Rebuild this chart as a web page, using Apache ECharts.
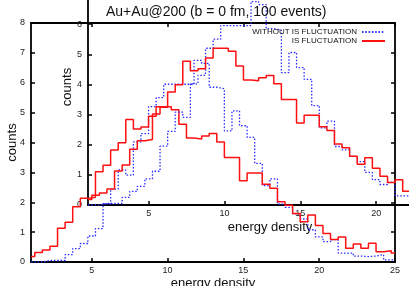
<!DOCTYPE html>
<html><head><meta charset="utf-8">
<script src="https://cdn.jsdelivr.net/npm/echarts@6/dist/echarts.min.js"></script>
<style>html,body{margin:0;padding:0;background:#fff}#c{width:409px;height:286px}</style>
</head><body><div id="c"></div>
<script>
const titleText = 'Au+Au@200 (b = 0 fm, 100 events)';
const nameWithout = 'WITHOUT IS FLUCTUATION';
const nameWith = 'IS FLUCTUATION';
const xName = 'energy density';
const yName = 'counts';
// left edges of histogram bins (energy density)
const binStart = [1, 1.25, 1.75, 2.25, 2.75, 3.25, 3.75, 4.25, 4.75, 5.25, 5.75, 6.25, 6.75, 7.25, 7.75, 8.25, 8.75, 9.25, 9.75, 10.25, 10.75, 11.25, 11.75, 12.25, 12.75, 13.25, 13.75, 14.25, 14.75, 15.25, 15.75, 16.25, 16.75, 17.25, 17.75, 18.25, 18.75, 19.25, 19.75, 20.25, 20.75, 21.25, 21.75, 22.25, 22.75, 23.25, 23.75, 24.25, 24.75];
const binEnd = 25;
const withFluct = [0.18, 0.32, 0.40, 0.53, 1.13, 1.33, 1.85, 2.13, 2.17, 3.02, 3.24, 3.75, 3.99, 4.77, 4.45, 4.52, 4.88, 5.20, 5.20, 5.10, 4.61, 4.15, 4.12, 4.22, 4.30, 4.02, 3.50, 3.50, 2.72, 2.98, 2.98, 2.60, 2.47, 2.02, 1.90, 1.62, 1.35, 1.57, 1.22, 0.95, 0.75, 0.84, 0.46, 0.60, 0.46, 0.63, 0.34, 0.38, 0.30];
const withoutFluct = [0, 0, 0.05, 0.05, 0.05, 0.25, 0.45, 0.62, 0.87, 1.12, 1.95, 2.44, 3.08, 2.91, 4.02, 4.30, 5.20, 5.50, 5.95, 5.95, 5.95, 5.95, 6.75, 6.65, 5.85, 5.80, 4.39, 5.06, 4.56, 4.17, 3.30, 2.56, 2.78, 1.94, 1.83, 1.61, 1.44, 1.08, 0.84, 0.68, 0.75, 0.30, 0.30, 0.20, 0.18, 0.20, 0.25, 0.07, 0.07];
const xTicks = [5, 10, 15, 20, 25];

function steps(vals) {
  const d = binStart.map((x, i) => [x, vals[i]]);
  d.push([binEnd, vals[vals.length - 1]]);
  return d;
}
const FONT = 'Liberation Sans';
const axisLineStyle = { color: '#000', width: 1.8 };
const tickStyle = { color: '#000', width: 1.5 };

function xAxisDef(grid, pos, labels, name, nameGap) {
  return {
    type: 'value', gridIndex: grid, position: pos, min: 1, max: 25,
    splitLine: { show: false },
    axisLine: { show: true, onZero: false, lineStyle: axisLineStyle },
    axisTick: { show: true, inside: true, length: 4, customValues: xTicks, lineStyle: tickStyle },
    axisLabel: { show: labels, customValues: xTicks, fontSize: 9, margin: 4, color: '#222', fontFamily: FONT },
    name: name, nameLocation: 'middle', nameGap: nameGap, nameMoveOverlap: false,
    nameTextStyle: { fontSize: 13, color: '#111', fontFamily: FONT }
  };
}
function yAxisDef(grid, pos, max, labels, name, nameGap, pad) {
  return {
    type: 'value', gridIndex: grid, position: pos, min: 0, max: max, interval: 1,
    splitLine: { show: false },
    axisLine: { show: true, onZero: false, lineStyle: axisLineStyle },
    axisTick: { show: true, inside: true, length: 4, lineStyle: tickStyle },
    axisLabel: { show: labels, fontSize: 9, margin: 6, color: '#222', fontFamily: FONT },
    name: name, nameLocation: 'middle', nameGap: nameGap, nameRotate: 90, nameMoveOverlap: false,
    nameTextStyle: { fontSize: 13, color: '#111', fontFamily: FONT, padding: pad }
  };
}
function line(name, vals, xi, yi) {
  const isRed = name === nameWith;
  return {
    name: name, type: 'line', step: 'end', xAxisIndex: xi, yAxisIndex: yi,
    data: steps(vals), symbol: 'none', animation: false,
    lineStyle: isRed ? { color: '#ff1010', width: 1.5 } : { color: '#2a2aff', width: 1.3, type: [1.5, 1.8] },
    itemStyle: { color: isRed ? '#ff1010' : '#2a2aff' }
  };
}

const chart = echarts.init(document.getElementById('c'));
chart.setOption({
  backgroundColor: '#fff',
  animation: false,
  title: { text: titleText, left: 106, top: 5, padding: 0,
    textStyle: { fontSize: 14, fontWeight: 'normal', color: '#111', fontFamily: FONT } },
  legend: {
    data: [nameWithout, nameWith], orient: 'vertical', right: 23, top: 28, padding: 0,
    align: 'right', itemWidth: 23, itemHeight: 7, itemGap: 1,
    itemStyle: { opacity: 0 },
    textStyle: { fontSize: 8, lineHeight: 7, color: '#111', fontFamily: FONT }
  },
  grid: [
    { left: 31, top: 23, width: 364, height: 239, outerBoundsMode: 'none', containLabel: false },
    { left: 88, top: -6, width: 364, height: 211, outerBoundsMode: 'none', containLabel: false }
  ],
  xAxis: [
    xAxisDef(0, 'bottom', true, xName, 15),
    xAxisDef(0, 'top', false, '', 0),
    xAxisDef(1, 'bottom', true, xName, 16)
  ],
  yAxis: [
    yAxisDef(0, 'left', 8, true, yName, 12, 0),
    yAxisDef(0, 'right', 8, false, '', 0, 0),
    yAxisDef(1, 'left', 7, true, yName, 14, [0, 0, 0, 25])
  ],
  series: [
    line(nameWithout, withoutFluct, 0, 0),
    line(nameWith, withFluct, 0, 0),
    line(nameWithout, withoutFluct, 2, 2),
    line(nameWith, withFluct, 2, 2)
  ]
});
</script></body></html>
